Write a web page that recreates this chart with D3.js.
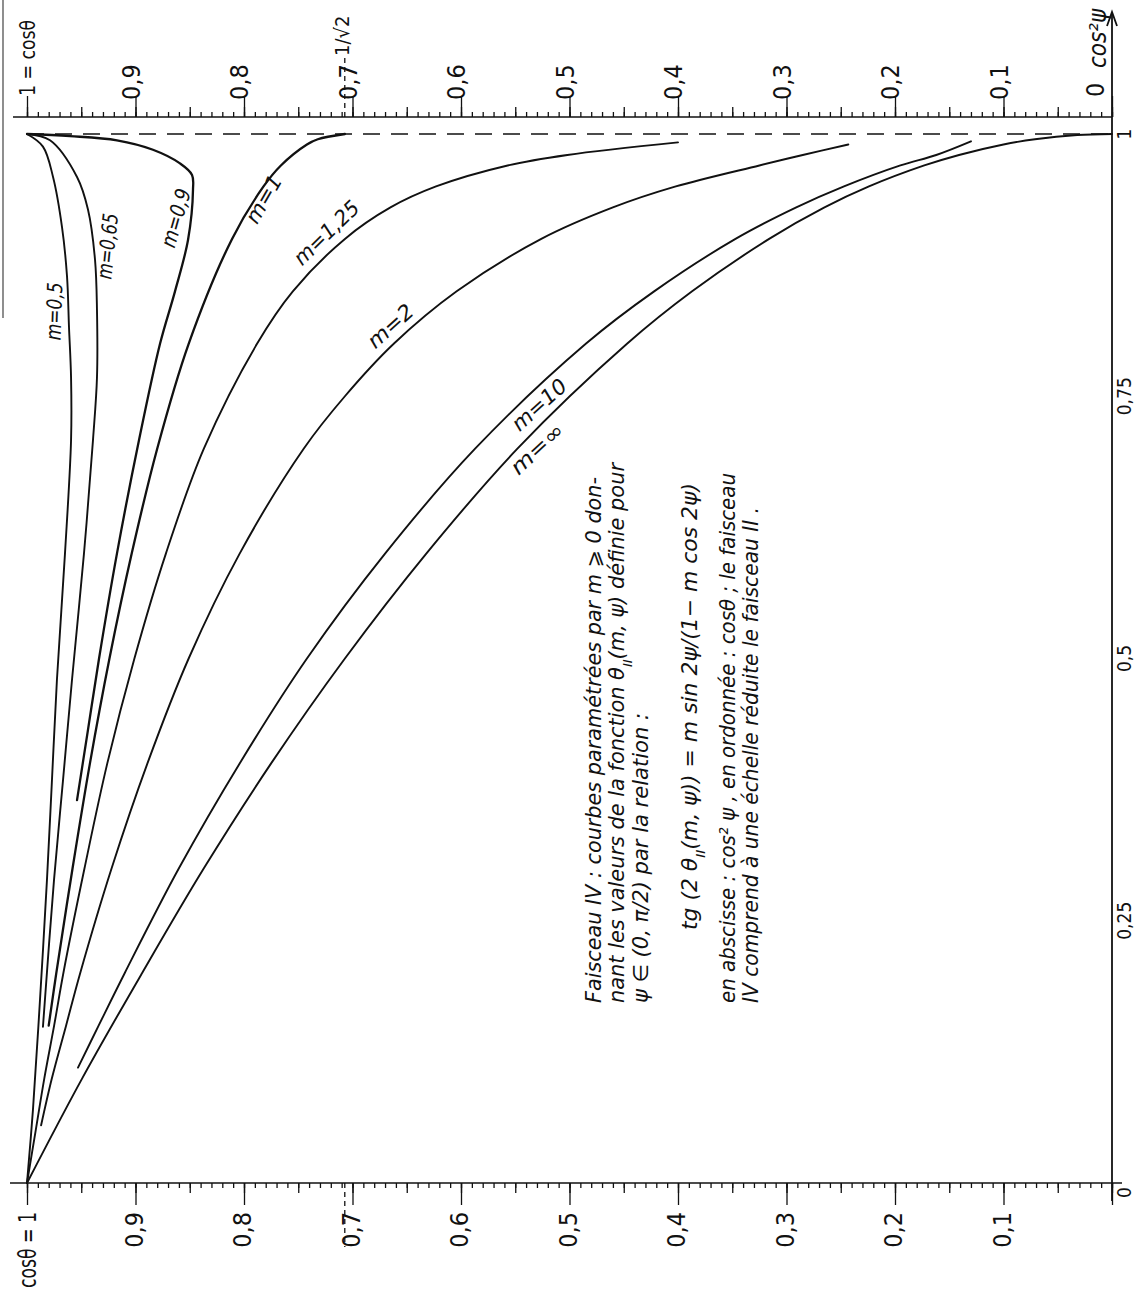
<!DOCTYPE html>
<html>
<head>
<meta charset="utf-8">
<script src="https://d3js.org/d3.v7.min.js"></script>
<style>
  body { margin: 0; background: #fff; }
  text { font-family: 'Liberation Sans Narrow', 'DejaVu Sans Condensed', 'DejaVu Sans', sans-serif; fill: #111; }
  .hand { font-style: italic; }
</style>
</head>
<body>
<svg id="chart"></svg>
<script>
// every curve point is [cos²ψ, cosθ]
var curveM05 = [[0, 1], [0.07, 0.9945], [0.175, 0.988], [0.289, 0.9816], [0.384, 0.977], [0.48, 0.9724],
  [0.6, 0.965], [0.708, 0.9594], [0.768, 0.9594], [0.816, 0.9613], [0.864, 0.9631], [0.911, 0.9677],
  [0.959, 0.976], [0.988, 0.9853], [1, 1]];
var curveM065 = [[0.149, 0.9853], [0.289, 0.9751], [0.384, 0.9668], [0.48, 0.9585], [0.6, 0.9475],
  [0.708, 0.9392], [0.768, 0.9355], [0.832, 0.9355], [0.88, 0.9373], [0.928, 0.9438], [0.959, 0.9539],
  [0.994, 0.9788], [1, 1]];
var curveM09 = [[0.365, 0.9539], [0.432, 0.9438], [0.5, 0.9336], [0.6, 0.9171], [0.708, 0.8968],
  [0.8, 0.8774], [0.85, 0.8636], [0.899, 0.8516], [0.947, 0.847], [0.961, 0.8479], [0.972, 0.859],
  [0.985, 0.8839], [0.994, 0.9171], [0.998, 0.9604], [1, 1]];
var curveM1 = [[0.15, 0.980], [0.2, 0.973], [0.3, 0.958], [0.4, 0.942], [0.5, 0.924], [0.6, 0.9035],
  [0.7, 0.880], [0.8, 0.851], [0.9, 0.811], [0.95, 0.782], [0.97, 0.766], [0.99, 0.742], [0.995, 0.732],
  [1, 0.707]];
var curveM125 = [[0, 1], [0.05, 0.992], [0.1, 0.984], [0.15, 0.975], [0.2, 0.9665], [0.3, 0.947],
  [0.4, 0.926], [0.5, 0.901], [0.6, 0.872], [0.7, 0.837], [0.8, 0.788], [0.85, 0.755], [0.9, 0.707],
  [0.93, 0.665], [0.95, 0.623], [0.97, 0.557], [0.98, 0.502], [0.992, 0.40]];
var curveM2 = [[0.055, 0.987], [0.1, 0.977], [0.15, 0.964], [0.2, 0.951], [0.3, 0.922], [0.4, 0.889],
  [0.5, 0.851], [0.6, 0.804], [0.7, 0.745], [0.75, 0.707], [0.8, 0.662], [0.85, 0.604], [0.9, 0.526],
  [0.93, 0.46], [0.95, 0.402], [0.97, 0.325], [0.98, 0.285], [0.99, 0.243]];
var curveM10 = [[0.11, 0.953], [0.15, 0.934], [0.2, 0.910], [0.3, 0.860], [0.4, 0.804], [0.5, 0.742],
  [0.6, 0.670], [0.7, 0.587], [0.8, 0.485], [0.85, 0.422], [0.9, 0.347], [0.93, 0.291], [0.95, 0.247],
  [0.97, 0.195], [0.98, 0.162], [0.993, 0.13]];
var curveMInf = [[0, 1], [0.1, 0.949], [0.2, 0.894], [0.3, 0.837], [0.4, 0.775], [0.5, 0.707], [0.6, 0.632],
  [0.7, 0.548], [0.8, 0.447], [0.85, 0.387], [0.9, 0.316], [0.93, 0.265], [0.95, 0.224], [0.97, 0.173],
  [0.98, 0.141], [0.99, 0.1], [0.995, 0.071], [0.999, 0.032], [1, 0]];

var curveNames = ["m=0,5", "m=0,65", "m=0,9", "m=1", "m=1,25", "m=2", "m=10", "m=∞"];
// where each name sits, again as [cos²ψ, cosθ]
var labelSpots = [[0.831, 0.975], [0.893, 0.926], [0.92, 0.863], [0.938, 0.782], [0.906, 0.724],
  [0.817, 0.665], [0.742, 0.528], [0.70, 0.530]];

var cosTicks = [1, 0.9, 0.8, 0.7, 0.6, 0.5, 0.4, 0.3, 0.2, 0.1, 0];
var topTickLabels = ["1 = cosθ", "0,9", "0,8", "0,7", "0,6", "0,5", "0,4", "0,3", "0,2", "0,1", "0"];
var bottomTickLabels = ["cosθ = 1", "0,9", "0,8", "0,7", "0,6", "0,5", "0,4", "0,3", "0,2", "0,1", ""];
var psiTicks = [1, 0.75, 0.5, 0.25, 0];
var psiTickLabels = ["1", "0,75", "0,5", "0,25", "0"];

var noteLines = [
  "Faisceau IV : courbes paramétrées par m ⩾ 0 don-",
  "nant les valeurs de la fonction θ|II|(m, ψ) définie pour",
  "ψ ∈ (0, π/2) par la relation :",
  "tg (2 θ|II|(m, ψ)) = m sin 2ψ/(1− m cos 2ψ)",
  "en abscisse : cos² ψ ,  en ordonnée : cosθ ;  le faisceau",
  "IV comprend à une échelle réduite le faisceau II ."
];

var W = 1135, H = 1295;
var svg = d3.select("#chart").attr("width", W).attr("height", H);

var x = d3.scaleLinear().domain([1, 0]).range([27, 1112]);   // cosθ runs left to right
var y = d3.scaleLinear().domain([0, 1]).range([1183, 134]);  // cos²ψ runs bottom to top

var ink = "#111";

// rotated text helper (reads bottom to top like the sheet)
function vtext(px, py, str, size, anchor, cls) {
  return svg.append("text")
    .attr("transform", "translate(" + px + "," + py + ") rotate(-90)")
    .attr("text-anchor", anchor)
    .attr("class", cls || null)
    .style("font-size", size + "px")
    .text(str);
}

// stray scan edge on the left
svg.append("line").attr("x1", 3).attr("x2", 3).attr("y1", 0).attr("y2", 318)
  .attr("stroke", "#444").attr("stroke-width", 1.2);

// ---- top cosθ scale ----
var topY = 117;
var minorVals = d3.range(0, 101).map(d => d / 100);
var midVals = d3.range(0, 21).map(d => d / 20);

svg.append("line").attr("x1", 13).attr("x2", x(0)).attr("y1", topY).attr("y2", topY)
  .attr("stroke", ink).attr("stroke-width", 1.6);
[[minorVals, 5], [midVals, 10], [cosTicks, 21]].forEach(function (t) {
  var g = svg.append("g").attr("transform", "translate(0," + topY + ")")
    .call(d3.axisTop(x).tickValues(t[0]).tickSize(t[1]).tickFormat("").tickSizeOuter(0));
  g.select(".domain").remove();
  g.selectAll("line").attr("stroke", ink).attr("stroke-width", 1.3);
});
cosTicks.forEach(function (v, i) {
  if (v === 0) return;
  var t = vtext(x(v) + (v === 1 ? 8 : 4), v === 1 ? 96 : 100, topTickLabels[i], v === 1 ? 22 : 25, "start");
  if (v === 1) t.attr("textLength", 76).attr("lengthAdjust", "spacingAndGlyphs");
});
vtext(x(0) - 8, 97, "0", 25, "start");
vtext(x(0) - 6, 68, "cos²ψ", 24, "start", "hand");

// 1/√2 marks
svg.append("line").attr("x1", x(Math.SQRT1_2)).attr("x2", x(Math.SQRT1_2)).attr("y1", topY).attr("y2", 58)
  .attr("stroke", ink).attr("stroke-width", 1.3).attr("stroke-dasharray", "5,4");
vtext(x(Math.SQRT1_2) + 4, 56, "1/√2", 20, "start");

// ---- bottom cosθ scale ----
var botY = y(0);
svg.append("line").attr("x1", 10).attr("x2", x(0) + 10).attr("y1", botY).attr("y2", botY)
  .attr("stroke", ink).attr("stroke-width", 1.6);
[[minorVals, 5], [midVals, 10], [cosTicks, 22]].forEach(function (t) {
  var g = svg.append("g").attr("transform", "translate(0," + botY + ")")
    .call(d3.axisBottom(x).tickValues(t[0]).tickSize(t[1]).tickFormat("").tickSizeOuter(0));
  g.select(".domain").remove();
  g.selectAll("line").attr("stroke", ink).attr("stroke-width", 1.3);
});
svg.append("line").attr("x1", x(Math.SQRT1_2)).attr("x2", x(Math.SQRT1_2)).attr("y1", botY).attr("y2", botY + 64)
  .attr("stroke", ink).attr("stroke-width", 1.3).attr("stroke-dasharray", "5,4");
cosTicks.forEach(function (v, i) {
  if (!bottomTickLabels[i]) return;
  var t = vtext(x(v) + (v === 1 ? 9 : 7), botY + 29, bottomTickLabels[i], 25, "end");
  if (v === 1) t.attr("textLength", 76).attr("lengthAdjust", "spacingAndGlyphs");
});

// ---- right cos²ψ axis ----
var rx = x(0);
svg.append("line").attr("x1", rx).attr("x2", rx).attr("y1", 14).attr("y2", botY + 18)
  .attr("stroke", ink).attr("stroke-width", 1.8);
svg.append("path").attr("d", d3.line()([[rx - 5, 26], [rx, 12], [rx + 5, 26]]))
  .attr("fill", "none").attr("stroke", ink).attr("stroke-width", 1.8);
psiTicks.forEach(function (v, i) {
  if (v === 0) vtext(rx + 19, y(v) + 4, psiTickLabels[i], 19, "end");
  else vtext(rx + 19, y(v), psiTickLabels[i], 19, "middle");
});

// dashed line cos²ψ = 1
svg.append("line").attr("x1", x(1)).attr("x2", x(0)).attr("y1", y(1)).attr("y2", y(1))
  .attr("stroke", ink).attr("stroke-width", 1.6).attr("stroke-dasharray", "17,11");

// ---- curves ----
var curves = [curveM05, curveM065, curveM09, curveM1, curveM125, curveM2, curveM10, curveMInf];
var line = d3.line().x(d => x(d[1])).y(d => y(d[0])).curve(d3.curveCatmullRom.alpha(0.5));
svg.append("g").selectAll("path").data(curves).join("path")
  .attr("d", line)
  .attr("fill", "none")
  .attr("stroke", ink)
  .attr("stroke-width", (d, i) => (i === 2 || i === 3) ? 2.3 : 1.9)
  .attr("stroke-linejoin", "round").attr("stroke-linecap", "round");

// curve names
var labelTilt = [-88, -84, -74, -60, -44, -42, -42, -43];
var labelLen = [58, 66, 60, 52, 82, 54, 66, 64];
curveNames.forEach(function (n, i) {
  svg.append("text")
    .attr("class", "hand")
    .attr("transform", "translate(" + x(labelSpots[i][1]) + "," + y(labelSpots[i][0]) + ") rotate(" + labelTilt[i] + ")")
    .attr("text-anchor", "middle")
    .attr("dy", "0.35em")
    .attr("textLength", labelLen[i]).attr("lengthAdjust", "spacingAndGlyphs")
    .style("font-size", "21px")
    .text(n);
});

// ---- note block ----
var noteX = [601, 624, 648, 697, 735, 758];
var noteY0 = [1003, 1003, 1003, 930, 1003, 1003];
var noteY1 = [477, 463, 713, 483, 473, 507];
noteLines.forEach(function (s, i) {
  var t = svg.append("text")
    .attr("class", "hand")
    .attr("transform", "translate(" + noteX[i] + "," + noteY0[i] + ") rotate(-90)")
    .attr("textLength", noteY0[i] - noteY1[i]).attr("lengthAdjust", "spacingAndGlyphs")
    .style("font-size", "21px");
  s.split("|").forEach(function (part, k) {
    var ts = t.append("tspan").text(part);
    if (k === 1) ts.attr("baseline-shift", "sub").style("font-size", "13px");
  });
});
</script>
</body>
</html>
